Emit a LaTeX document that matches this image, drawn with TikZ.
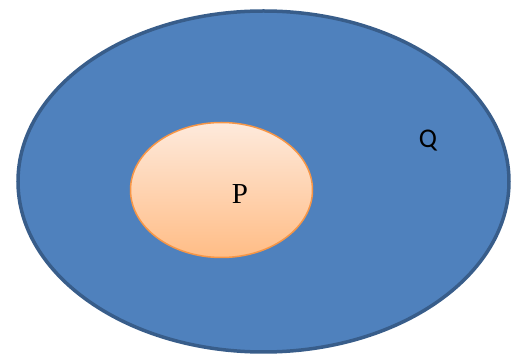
\documentclass[tikz,border=0pt]{standalone}
\usepackage{fontspec}
\setmainfont{Liberation Serif}
\newfontfamily\qfont{Carlito}
\usetikzlibrary{shapes.geometric}
\definecolor{bigfill}{HTML}{4F81BD}
\definecolor{bigline}{HTML}{385D8A}
\definecolor{smtop}{HTML}{FEEADC}
\definecolor{smbot}{HTML}{FFBD86}
\definecolor{smline}{HTML}{F79646}
\tikzset{
  setbig/.style={ellipse, draw=bigline, line width=3.5pt, fill=bigfill, minimum width=491pt, minimum height=341pt, inner sep=0pt},
  setsmall/.style={ellipse, draw=smline, line width=1.5pt, top color=smtop, bottom color=smbot, minimum width=182pt, minimum height=135pt, inner sep=0pt},
  lbl/.style={inner sep=0pt, text=black}
}
\begin{document}
\begin{tikzpicture}[x=1pt,y=-1pt]
\useasboundingbox (0,0) rectangle (512,355);
\node[setbig] (Q) at (263.5,181.5) {};
\node[setsmall] (P) at (221.5,190) {};
\node[lbl, font=\fontsize{29}{32}\selectfont] (Plbl) at (240,194) {P};
\node[lbl, font=\qfont\fontsize{27}{30}\selectfont] (Qlbl) at (428,141) {Q};
\end{tikzpicture}
\end{document}
